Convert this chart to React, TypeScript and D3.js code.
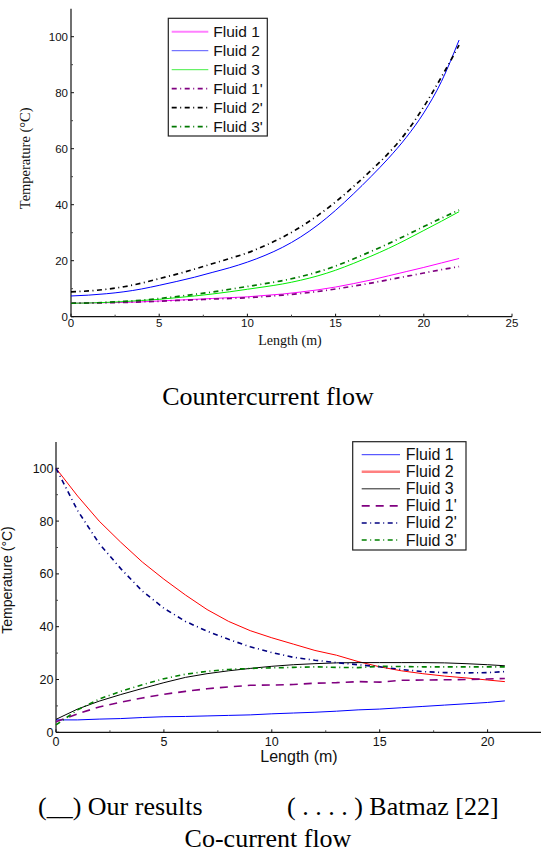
import React from 'react';
import * as d3 from 'd3';

// ---------- Countercurrent (top) ----------
const topLength = [0, 1, 2, 3, 4, 5, 6, 7, 8, 9, 10, 11, 12, 13, 14, 15, 16, 17, 18, 19, 20, 21, 22];
const topFluid1 = [4.8, 4.9, 5.0, 5.1, 5.3, 5.6, 5.9, 6.2, 6.5, 6.8, 7.1, 7.6, 8.1, 8.8, 9.6, 10.6, 11.8, 13.1, 14.6, 16.1, 17.6, 19.2, 20.8];
const topFluid2 = [7.4, 7.7, 8.2, 8.9, 9.9, 11.2, 12.6, 14.1, 15.8, 17.5, 19.5, 21.9, 24.8, 28.4, 32.8, 38.0, 43.8, 50.0, 56.6, 64.0, 72.8, 84.0, 98.8];
const topFluid3 = [4.8, 4.9, 5.1, 5.4, 5.8, 6.2, 6.8, 7.4, 8.1, 8.9, 9.8, 10.7, 11.7, 13.0, 14.6, 16.6, 19.0, 21.6, 24.4, 27.5, 30.8, 34.1, 37.5];
const topFluid1p = [4.8, 4.9, 5.0, 5.1, 5.3, 5.5, 5.8, 6.0, 6.3, 6.5, 6.8, 7.2, 7.7, 8.3, 9.0, 9.9, 10.9, 12.0, 13.2, 14.4, 15.6, 16.8, 17.9];
const topFluid2p = [8.9, 9.2, 9.8, 10.7, 12.0, 13.6, 15.2, 17.0, 18.9, 20.8, 22.8, 25.4, 28.4, 32.0, 36.2, 41.0, 46.4, 52.2, 58.4, 65.8, 75.0, 85.6, 97.0];
const topFluid3p = [4.8, 4.9, 5.1, 5.5, 5.9, 6.5, 7.2, 8.0, 8.8, 9.8, 10.8, 11.8, 12.9, 14.3, 16.0, 18.1, 20.6, 23.3, 26.1, 29.1, 32.2, 35.2, 38.1];

// ---------- Co-current (bottom) ----------
const botLength = [0, 1, 2, 3, 4, 5, 6, 7, 8, 9, 10, 11, 12, 13, 14, 15, 16, 17, 18, 19, 20, 20.8];
const botFluid1 = [4.7, 4.7, 5.0, 5.2, 5.6, 5.9, 6.0, 6.2, 6.4, 6.6, 7.0, 7.3, 7.6, 8.0, 8.5, 8.8, 9.3, 9.8, 10.3, 10.8, 11.3, 11.9];
const botFluid2 = [100, 89.5, 80, 72, 64.5, 58, 52, 46.5, 42, 38.5, 35.8, 33.4, 31.0, 29.2, 26.8, 24.8, 23.3, 22.2, 21.3, 20.6, 19.8, 19.2];
const botFluid3 = [4.9, 8.8, 11.8, 14.3, 16.6, 18.8, 20.8, 22.2, 23.3, 24.2, 25.0, 25.6, 26.0, 26.3, 26.4, 26.4, 26.4, 26.4, 26.3, 26.0, 25.6, 25.2];
const botFluid1p = [4.0, 7.0, 9.6, 11.4, 13.0, 14.4, 15.5, 16.5, 17.2, 17.8, 17.9, 18.1, 18.6, 18.8, 19.2, 19.0, 19.7, 19.8, 19.9, 20.0, 20.2, 20.4];
const botFluid2p = [100, 84, 71.5, 62, 53.5, 47, 42, 38.3, 35.2, 32.4, 30.2, 28.4, 27.3, 26.4, 25.6, 24.8, 23.8, 23.0, 22.6, 22.5, 22.6, 23.0];
const botFluid3p = [2.8, 8.5, 12.6, 15.5, 18.0, 20.3, 22.0, 23.1, 23.8, 24.2, 24.4, 24.6, 24.8, 24.6, 24.5, 25.0, 24.9, 24.8, 24.8, 24.8, 24.8, 24.8];

const legendLabels = ['Fluid 1', 'Fluid 2', 'Fluid 3', "Fluid 1'", "Fluid 2'", "Fluid 3'"];
const xTicks = [0, 5, 10, 15, 20, 25];
const yTicks = [0, 20, 40, 60, 80, 100];
const xMinor = [2.5, 7.5, 12.5, 17.5, 22.5];
const yMinor = [10, 30, 50, 70, 90];

const SANS = "'Liberation Sans', Arial, sans-serif";
const SERIF = "'Liberation Serif', 'Times New Roman', serif";

type Style = { color: string; width: number; dash?: string; lcolor?: string; lwidth?: number };

function path(xs: number[], ys: number[], x: any, y: any, curve: any) {
  return d3.line<number>().x((_, i) => x(xs[i])).y(d => y(d)).curve(curve)(ys) || '';
}

function Axes({ x, y, xEnd, xTickVals, tickFs, yLabX, xLabY }: any) {
  const [x0] = x.range();
  const [y0, y1] = y.range();
  return (
    <g>
      <line x1={x0} x2={xEnd} y1={y0} y2={y0} stroke="#111" strokeWidth={1.2} />
      <line x1={x0} x2={x0} y1={y0} y2={y1} stroke="#111" strokeWidth={1.2} />
      {xTickVals.map((t: number) => (
        <g key={'xt' + t}>
          <line x1={x(t)} x2={x(t)} y1={y0} y2={y0 - 3} stroke="#111" />
          <text x={x(t)} y={xLabY} fontFamily={SANS} fontSize={tickFs} textAnchor="middle" fill="#111">{t}</text>
        </g>
      ))}
      {xMinor.filter(t => x(t) < xEnd).map(t => (
        <line key={'xm' + t} x1={x(t)} x2={x(t)} y1={y0} y2={y0 - 2} stroke="#444" />
      ))}
      {yTicks.map(t => (
        <g key={'yt' + t}>
          <line x1={x0} x2={x0 + 3} y1={y(t)} y2={y(t)} stroke="#111" />
          <text x={yLabX} y={y(t) + tickFs * 0.36} fontFamily={SANS} fontSize={tickFs} textAnchor="end" fill="#111">{t}</text>
        </g>
      ))}
      {yMinor.map(t => (
        <line key={'ym' + t} x1={x0} x2={x0 + 2} y1={y(t)} y2={y(t)} stroke="#444" />
      ))}
    </g>
  );
}

function Legend({ x, y, w, h, rowY0, step, lineX0, lineX1, textX, fs, styles, baseOff }: any) {
  return (
    <g>
      <rect x={x} y={y} width={w} height={h} fill="#fff" stroke="#222" strokeWidth={1.2} />
      {legendLabels.map((lab, i) => {
        const s: Style = styles[i];
        const cy = rowY0 + i * step;
        return (
          <g key={lab}>
            <line x1={lineX0} x2={lineX1} y1={cy} y2={cy} stroke={s.lcolor || s.color} strokeWidth={s.lwidth || s.width} strokeDasharray={s.dash} />
            <text x={textX} y={cy + baseOff} fontFamily={SANS} fontSize={fs} fill="#111">{lab}</text>
          </g>
        );
      })}
    </g>
  );
}

export default function App() {
  // top chart scales
  const xT = d3.scaleLinear().domain([0, 25]).range([71, 512]);
  const yT = d3.scaleLinear().domain([0, 110]).range([316.7, 8.7]);
  // bottom chart scales
  const xB = d3.scaleLinear().domain([0, 25]).range([56, 56 + 25 * 21.58]);
  const yB = d3.scaleLinear().domain([0, 110]).range([732.3, 441.9]);

  const dd = '5,3.5,1,3.5';
  const topStyles: Style[] = [
    { color: '#ff00ff', width: 1, lcolor: '#ff80ff', lwidth: 2 },
    { color: '#0000ff', width: 1, lcolor: '#5555ff' },
    { color: '#00ee00', width: 1, lcolor: '#44ee44' },
    { color: '#800080', width: 1.7, dash: dd },
    { color: '#000000', width: 1.7, dash: dd },
    { color: '#007700', width: 1.7, dash: dd },
  ];
  const topData = [topFluid1, topFluid2, topFluid3, topFluid1p, topFluid2p, topFluid3p];

  const botStyles: Style[] = [
    { color: '#0000ff', width: 1, lcolor: '#3333ff' },
    { color: '#ff0000', width: 1, lcolor: '#ff8080', lwidth: 2.5 },
    { color: '#000000', width: 1, lcolor: '#222' },
    { color: '#800080', width: 1.6, dash: '8,6' },
    { color: '#000080', width: 1.6, dash: dd },
    { color: '#008000', width: 1.6, dash: dd },
  ];
  const botData = [botFluid1, botFluid2, botFluid3, botFluid1p, botFluid2p, botFluid3p];

  return (
    <svg width={541} height={853} style={{ position: 'absolute', left: 0, top: 0, background: '#fff' }}>
      <rect width={541} height={853} fill="#fff" />
      {/* ---- top chart ---- */}
      <Axes x={xT} y={yT} xEnd={512} xTickVals={xTicks} tickFs={11.5} yLabX={68} xLabY={327} />
      {topData.map((d, i) => (
        <path key={'t' + i} d={path(topLength, d, xT, yT, d3.curveMonotoneX)} fill="none"
          stroke={topStyles[i].color} strokeWidth={topStyles[i].width} strokeDasharray={topStyles[i].dash} />
      ))}
      <Legend x={168.3} y={18.3} w={99} h={117.7} rowY0={31.7} step={19} lineX0={171.7} lineX1={208.3}
        textX={213.3} fs={15.5} styles={topStyles} baseOff={5.6} />
      <text x={290} y={345} fontFamily={SERIF} fontSize={14} textAnchor="middle" fill="#111">Length (m)</text>
      <text transform="translate(30,158.3) rotate(-90)" fontFamily={SERIF} fontSize={14.5} textAnchor="middle" fill="#111">Temperature (°C)</text>

      <text x={268} y={405} fontFamily={SERIF} fontSize={26} textAnchor="middle" fill="#000">Countercurrent flow</text>

      {/* ---- bottom chart ---- */}
      <Axes x={xB} y={yB} xEnd={541} xTickVals={[0, 5, 10, 15, 20]} tickFs={12.5} yLabX={53.5} xLabY={746} />
      {botData.map((d, i) => (
        <path key={'b' + i} d={path(botLength, d, xB, yB, d3.curveLinear)} fill="none"
          stroke={botStyles[i].color} strokeWidth={botStyles[i].width} strokeDasharray={botStyles[i].dash} />
      ))}
      <Legend x={352.7} y={441.7} w={113.3} h={108.3} rowY0={454.7} step={17.06} lineX0={361.7} lineX1={400}
        textX={405.7} fs={16} styles={botStyles} baseOff={5.5} />
      <text x={299} y={762} fontFamily={SANS} fontSize={16} textAnchor="middle" fill="#111">Length (m)</text>
      <text transform="translate(11.5,580) rotate(-90)" fontFamily={SANS} fontSize={14} textAnchor="middle" fill="#111">Temperature (°C)</text>

      <text x={38} y={815} fontFamily={SERIF} fontSize={26} fill="#000">(__) Our results</text>
      <text x={287} y={815} fontFamily={SERIF} fontSize={26} fill="#000">( . . . . ) Batmaz [22]</text>
      <text x={268} y={847} fontFamily={SERIF} fontSize={26} textAnchor="middle" fill="#000">Co-current flow</text>
    </svg>
  );
}
